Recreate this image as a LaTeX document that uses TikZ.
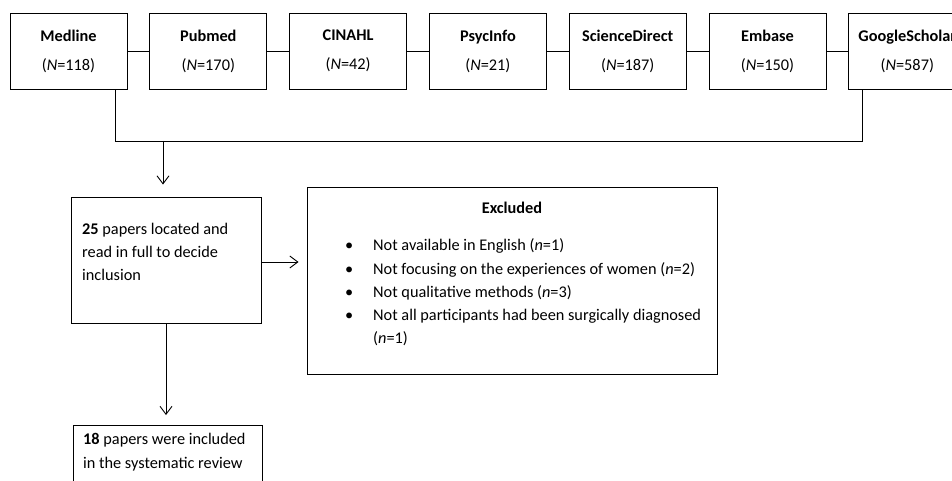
\documentclass[tikz,border=0pt]{standalone}
\usepackage{fontspec}
\setmainfont{Carlito}
\usetikzlibrary{arrows.meta}
\newcommand{\bul}{\llap{\textbullet\hspace{20pt}}}
\begin{document}
\begin{tikzpicture}[x=1pt,y=-1pt,
  every node/.style={font=\fontsize{16.3}{23.3}\selectfont},
  dbbox/.style={draw, line width=0.9pt, minimum width=117pt, minimum height=76pt, inner sep=0pt, align=center, font=\fontsize{16.3}{29}\selectfont},
  plainbox/.style={draw, line width=0.9pt, inner sep=0pt},
  txt/.style={inner sep=0pt, align=left, anchor=west},
  line/.style={line width=0.9pt},
  arr/.style={line width=0.9pt, -{Straight Barb[length=8pt,width=12pt]}}]
\useasboundingbox (0,0) rectangle (952,481);
\clip (0,0) rectangle (952,481);
% database boxes
\node[dbbox] (medline) at (68.5,51) {\textbf{Medline}\\(\textit{N}=118)};
\node[dbbox] (pubmed) at (208.3,51) {\textbf{Pubmed}\\(\textit{N}=170)};
\node[dbbox] (cinahl) at (348.1,51) {\textbf{CINAHL}\\(\textit{N}=42)};
\node[dbbox] (psyc) at (487.9,51) {\textbf{PsycInfo}\\(\textit{N}=21)};
\node[dbbox] (sd) at (627.7,51) {\textbf{ScienceDirect}\\(\textit{N}=187)};
\node[dbbox] (embase) at (767.5,51) {\textbf{Embase}\\(\textit{N}=150)};
\node[dbbox] (gs) at (907.3,51) {\textbf{GoogleScholar}\\(\textit{N}=587)};
\draw[line] (medline) -- (pubmed);
\draw[line] (pubmed) -- (cinahl);
\draw[line] (cinahl) -- (psyc);
\draw[line] (psyc) -- (sd);
\draw[line] (sd) -- (embase);
\draw[line] (embase) -- (gs);
% merge line
\coordinate (jl) at (115,141);
\coordinate (jr) at (862,141);
\coordinate (jm) at (163,141);
\draw[line] (medline.south -| jl) -- (jl) -- (jr) -- (gs.south -| jr);
% full-text box
\node[plainbox, minimum width=190pt, minimum height=126pt] (full) at (166,260) {};
\node[txt] (fulltxt) at (82,252) {\textbf{25} papers located and\\read in full to decide\\inclusion};
\draw[arr, shorten >=12pt] (jm) -- (jm |- full.north);
% excluded box
\node[plainbox, minimum width=410pt, minimum height=187pt] (excl) at (512,280.5) {};
\node[inner sep=0pt] (excltitle) at (512,208) {\textbf{Excluded}};
\node[txt] (excllist) at (373,292.5) {\bul Not available in English (\textit{n}=1)\\
\bul Not focusing on the experiences of women (\textit{n}=2)\\
\bul Not qualitative methods (\textit{n}=3)\\
\bul Not all participants had been surgically diagnosed\\
(\textit{n}=1)};
\draw[arr, shorten >=8pt] (full.east |- 0,262) -- (excl.west |- 0,262);
% included box
\node[plainbox, minimum width=189pt, minimum height=90pt, anchor=north west] (incl) at (73,425) {};
\node[txt] (incltxt) at (83,452) {\textbf{18} papers were included\\in the systematic review};
\draw[arr, shorten >=10pt] (full.south) -- (full.south |- incl.north);
\end{tikzpicture}
\end{document}
